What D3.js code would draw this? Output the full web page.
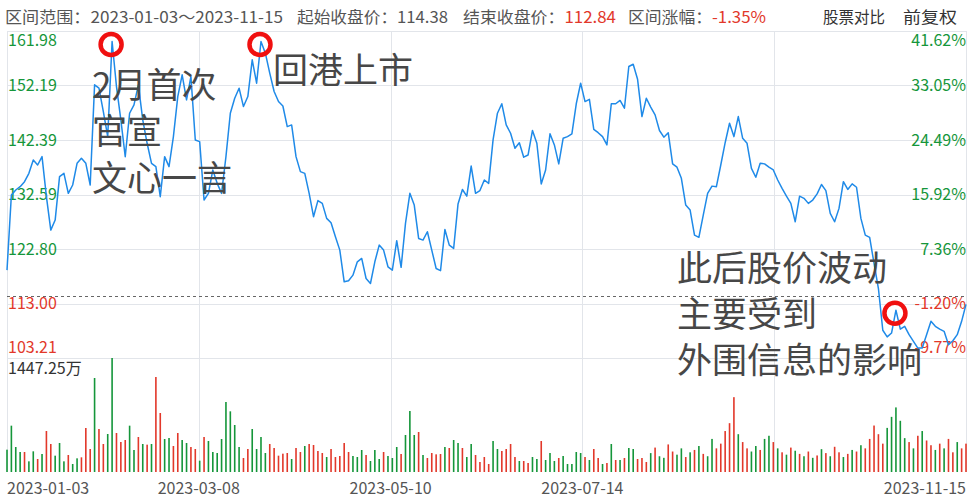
<!DOCTYPE html>
<meta charset="utf-8">
<style>
body { margin: 0; background: #fff; }
text { font-family: "Noto Sans CJK SC", "Noto Sans", sans-serif; }
.tick text { font-size: 16px; }
.xlab text { font-size: 16px; }
.note { font-size: 35px; fill: #474747; }
</style>
<svg width="975" height="501"></svg>
<script src="https://cdn.jsdelivr.net/npm/d3@7"></script>
<script>

// closing prices, one per trading day
var prices = [
  119.0, 132.5, 133.4, 134.0, 134.9, 136.4, 138.8, 137.9, 139.4, 132.2,
  126.2, 128.0, 135.8, 136.4, 132.8, 134.3, 138.2, 139.1, 138.2, 134.3,
  152.3, 151.7, 147.5, 143.0, 160.1, 152.0, 146.0, 139.4, 147.2, 148.7,
  152.3, 146.0, 141.8, 138.2, 137.6, 132.2, 139.4, 137.6, 143.0, 150.2,
  154.1, 149.6, 153.8, 142.4, 142.1, 131.6, 132.8, 137.0, 134.6, 132.8,
  139.4, 147.2, 149.9, 151.7, 148.4, 150.2, 156.8, 152.6, 160.1, 158.0,
  154.4, 151.1, 149.3, 148.5, 144.8, 145.1, 139.4, 136.7, 136.4, 132.8,
  128.6, 131.5, 131.0, 128.3, 127.5, 125.0, 122.6, 116.9, 117.1, 118.1,
  120.5, 121.1, 117.5, 116.6, 120.5, 123.5, 122.6, 119.6, 119.0, 124.3,
  119.5, 127.4, 132.8, 130.7, 124.7, 124.4, 125.9, 122.6, 119.3, 118.9,
  126.3, 123.5, 122.9, 130.9, 133.5, 132.3, 137.7, 132.8, 133.3, 135.2,
  134.6, 142.4, 147.2, 148.9, 145.1, 143.6, 140.9, 141.9, 139.3, 139.7,
  144.1, 141.8, 134.5, 137.0, 143.5, 141.5, 138.1, 142.7, 143.0, 143.5,
  148.9, 152.6, 149.3, 149.7, 144.3, 143.7, 143.0, 141.5, 148.9, 148.9,
  149.5, 148.1, 155.6, 156.0, 153.3, 146.6, 149.9, 148.3, 146.9, 144.1,
  142.9, 143.7, 138.1, 137.5, 135.5, 130.7, 129.8, 125.3, 124.9, 128.9,
  132.8, 134.1, 134.0, 137.9, 141.9, 145.4, 143.0, 146.6, 142.7, 141.8,
  137.3, 135.7, 138.2, 138.1, 137.5, 137.0, 135.2, 133.7, 132.3, 131.0,
  127.7, 132.3, 131.9, 131.0, 131.6, 132.7, 134.4, 133.3, 129.2, 127.7,
  130.1, 134.9, 133.5, 134.5, 133.9, 128.3, 125.3, 124.9, 120.2, 115.7,
  108.2, 107.0, 107.7, 111.8, 108.4, 108.9, 107.4, 106.2, 105.0, 105.0,
  107.4, 109.8, 108.9, 108.4, 108.0, 105.6, 106.3, 107.4, 109.8, 112.84
];

// volume in 万
var volumes = [
  283.5, 588.2, 317.4, 253.9, 253.9, 135.4, 262.4, 165.0, 228.5, 520.5,
  355.5, 207.4, 368.2, 135.4, 215.8, 101.6, 173.5, 186.2, 558.6, 292.0,
  1193.3, 545.9, 355.5, 482.4, 1447.25, 495.1, 380.9, 406.2, 588.2, 279.3,
  444.3, 355.5, 347.0, 355.5, 1206.0, 749.0, 418.9, 431.6, 330.1, 495.1,
  406.2, 368.2, 317.4, 292.0, 143.9, 444.3, 393.5, 253.9, 241.2, 418.9,
  888.7, 770.2, 596.7, 317.4, 177.7, 292.0, 545.9, 292.0, 444.3, 241.2,
  355.5, 304.7, 207.4, 232.7, 241.2, 165.0, 304.7, 253.9, 330.1, 355.5,
  342.8, 266.6, 241.2, 190.4, 292.0, 190.4, 203.1, 368.2, 253.9, 203.1,
  190.4, 279.3, 215.8, 139.6, 279.3, 165.0, 253.9, 203.1, 177.7, 317.4,
  228.5, 469.7, 774.4, 469.7, 507.8, 215.8, 177.7, 241.2, 224.3, 228.5,
  317.4, 304.7, 406.2, 368.2, 304.7, 190.4, 355.5, 215.8, 127.0, 190.4,
  101.6, 393.5, 292.0, 266.6, 292.0, 355.5, 190.4, 139.6, 139.6, 114.3,
  190.4, 165.0, 393.5, 152.3, 241.2, 139.6, 177.7, 203.1, 101.6, 101.6,
  253.9, 241.2, 190.4, 152.3, 292.0, 177.7, 101.6, 114.3, 355.5, 152.3,
  152.3, 177.7, 304.7, 292.0, 165.0, 177.7, 127.0, 240, 310, 200,
  180, 350, 260, 220, 300, 190, 250, 280, 330, 230,
  200, 420, 300, 360, 520, 620, 950, 480, 380, 300,
  260, 330, 280, 420, 460, 380, 300, 250, 220, 310,
  270, 230, 200, 260, 180, 210, 290, 240, 200, 320,
  250, 190, 230, 280, 260, 340, 300, 420, 590, 480,
  360, 560, 700, 820, 650, 430, 380, 300, 460, 520,
  400, 340, 280, 360, 300, 420, 250, 380, 300, 360
];

// R = 收阳 (red), G = 收阴 (green)
var volDir = (
  "GGGGRGGRGR" + "RGGGRGGRRR" + "GRRGGRRRGG" + "RGRGRRGGRR" + "GGRRGRGGGG" +
  "GGGGRRGGGG" + "RRRRRGRRGR" + "RRRG" +
  "RRRRRGGGRG" + "GGRGGGRGGG" + "RGRRRRGRGG" + "RGGRRRRGGR" + "RRRGRRGGRG" +
  "GGRGGGGGRG" + "RRGRGRGRGG" + "RRR" +
  "GRGGRRGGRG" + "RGRGGRRRRR" + "GRRGGRGGRG" + "RGRGRGRGRG" + "RGRRGRGRGR" +
  "RRRRGGGGGR" + "GRGRRGRGRR" + "GRR"
).split("");

var priceTicks = ["161.98", "152.19", "142.39", "132.59", "122.80", "113.00", "103.21"];
var pctTicks = ["41.62%", "33.05%", "24.49%", "15.92%", "7.36%", "-1.20%", "-9.77%"];
var dateLabels = ["2023-01-03", "2023-03-08", "2023-05-10", "2023-07-14", "", "2023-11-15"];
var basePrice = 114.38;
var volMax = 1447.25;

var RED = "#e2382a", GREEN = "#15963a", GRID = "#e2e5ea";

var svg = d3.select("svg");
var plotL = 7, plotR = 966, plotT = 31, priceB = 358, volB = 472;

var x = d3.scaleLinear().domain([0, prices.length - 1]).range([plotL, plotR]);
var y = d3.scaleLinear().domain([103.21, 161.98]).range([priceB, plotT]);
var yv = d3.scaleLinear().domain([0, volMax]).range([volB, priceB]);

// header
var head = svg.append("g").attr("font-size", 16).attr("fill", "#555");
function headText(xp, w, parts) {
  var t = head.append("text").attr("x", xp).attr("y", 23);
  if (w) t.attr("textLength", w).attr("lengthAdjust", "spacingAndGlyphs");
  parts.forEach(function(p) {
    t.append("tspan").attr("fill", p[1] || "#555").text(p[0]);
  });
}
headText(5, 278, [["区间范围：2023-01-03～2023-11-15"]]);
headText(297, 151, [["起始收盘价：114.38"]]);
headText(463, 153, [["结束收盘价："], ["112.84", RED]]);
headText(628, 138, [["区间涨幅："], ["-1.35%", RED]]);
headText(823, 62, [["股票对比", "#333"]]);
headText(903, 54, [["前复权", "#333"]]);

// grid
var grid = svg.append("g");
grid.selectAll(".h").data(priceTicks).enter().append("line")
  .attr("x1", plotL).attr("x2", plotR)
  .attr("y1", function(d) { return Math.round(y(+d)) + 0.5; })
  .attr("y2", function(d) { return Math.round(y(+d)) + 0.5; })
  .attr("stroke", GRID);
grid.selectAll(".v").data(dateLabels).enter().append("line")
  .attr("x1", function(d, i) { return Math.round(plotL + i * (plotR - plotL) / 5) + 0.5; })
  .attr("x2", function(d, i) { return Math.round(plotL + i * (plotR - plotL) / 5) + 0.5; })
  .attr("y1", plotT).attr("y2", volB)
  .attr("stroke", GRID);

// base price dashed line
svg.append("line")
  .attr("x1", plotL).attr("x2", plotR)
  .attr("y1", Math.round(y(basePrice)) + 0.5).attr("y2", Math.round(y(basePrice)) + 0.5)
  .attr("stroke", "#666").attr("stroke-dasharray", "3,3");

// axis labels
var ticks = svg.append("g").attr("class", "tick");
function dyFor(i) { return i == 0 ? "0.95em" : (i == priceTicks.length - 1 ? "-0.3em" : "0.35em"); }
ticks.selectAll(".l").data(priceTicks).enter().append("text")
  .attr("x", plotL + 1).attr("y", function(d) { return y(+d); })
  .attr("dy", function(d, i) { return dyFor(i); })
  .attr("fill", function(d) { return +d >= basePrice ? GREEN : RED; })
  .text(function(d) { return d; });
ticks.selectAll(".r").data(pctTicks).enter().append("text")
  .attr("x", plotR).attr("text-anchor", "end")
  .attr("y", function(d, i) { return y(+priceTicks[i]); })
  .attr("dy", function(d, i) { return dyFor(i); })
  .attr("fill", function(d) { return d.charAt(0) == "-" ? RED : GREEN; })
  .text(function(d) { return d; });

// volume bars
svg.append("g").selectAll("rect").data(volumes).enter().append("rect")
  .attr("x", function(d, i) { return x(i) - 0.8; })
  .attr("width", 1.6)
  .attr("y", function(d) { return yv(d); })
  .attr("height", function(d) { return volB - yv(d); })
  .attr("fill", function(d, i) { return volDir[i] == "R" ? RED : GREEN; });

svg.append("text").attr("x", plotL + 1).attr("y", 374)
  .attr("font-size", 16).attr("fill", "#333").text("1447.25万");

// price line
var line = d3.line()
  .x(function(d, i) { return x(i); })
  .y(function(d) { return y(d); });
svg.append("path").datum(prices)
  .attr("d", line)
  .attr("fill", "none")
  .attr("stroke", "#1f8ae8")
  .attr("stroke-width", 1.5)
  .attr("stroke-linejoin", "round");

// x labels
svg.append("g").attr("class", "xlab").selectAll("text").data(dateLabels).enter().append("text")
  .attr("x", function(d, i) { return plotL + i * (plotR - plotL) / 5; })
  .attr("y", 494)
  .attr("text-anchor", function(d, i) { return i == 0 ? "start" : (i == 5 ? "end" : "middle"); })
  .attr("fill", "#555")
  .text(function(d) { return d; });

// annotations
var marks = [24, 58, 203];
svg.append("g").selectAll("circle").data(marks).enter().append("circle")
  .attr("cx", function(d) { return x(d) - 1; })
  .attr("cy", function(d) { return y(prices[d]) + 3; })
  .attr("r", 10.5)
  .attr("fill", "none")
  .attr("stroke", "#f01010")
  .attr("stroke-width", 4.5);

var notes = [
  [92, 98, "2月首次"], [92, 144, "官宣"], [92, 191, "文心一言"],
  [273, 83, "回港上市"],
  [677, 281, "此后股价波动"], [677, 327, "主要受到"], [677, 373, "外围信息的影响"]
];
svg.append("g").selectAll("text").data(notes).enter().append("text")
  .attr("class", "note")
  .attr("x", function(d) { return d[0]; })
  .attr("y", function(d) { return d[1]; })
  .text(function(d) { return d[2]; });

</script>
